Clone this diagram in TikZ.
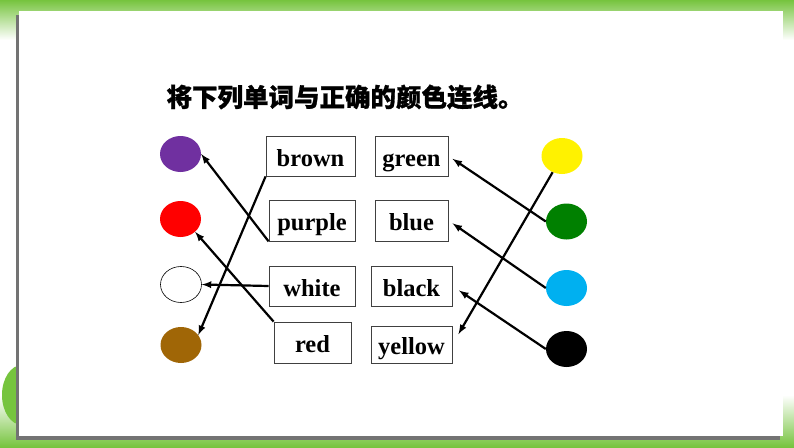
\documentclass[tikz,border=0pt]{standalone}
\usepackage{fontspec}
\setmainfont{Liberation Serif}
\newfontfamily\cjk[BoldFeatures={FakeBold=1}]{Noto Sans CJK SC}
\usepackage{tikz}
\usetikzlibrary{arrows,shapes.geometric}
\definecolor{leaf}{RGB}{118,196,62}
\definecolor{cpurple}{RGB}{112,48,160}
\definecolor{cbrown}{RGB}{160,102,6}
\definecolor{cgreen}{RGB}{0,128,0}
\definecolor{cblue}{RGB}{0,176,240}

\begin{document}
\begin{tikzpicture}[x=1pt,y=-1pt,
	word/.style={rectangle, draw=black!75, line width=0.8pt, minimum height=40pt, inner sep=0pt, text height=20pt, text depth=0pt, font=\bfseries\fontsize{24.5}{24.5}\selectfont},
	dot/.style={ellipse, minimum width=41pt, minimum height=36pt, inner sep=0pt},
	link/.style={>=latex, ->, line width=2.2pt}]

\useasboundingbox (0,0) rectangle (794,447);
% background and panel
\fill[white] (0,0) rectangle (794,447);
\shade[top color=leaf, bottom color=white] (0,0) rectangle (794,40);
\shade[top color=white, bottom color=leaf] (0,395) rectangle (794,447);
\fill[leaf] (22,395) ellipse (20 and 30);
\fill[black!55] (16,15) rectangle (780,440);
\fill[white] (19,11) rectangle (783,436);

\node[anchor=west, font=\cjk\bfseries\fontsize{25.5}{25.5}\selectfont] (T) at (163,97) {将下列单词与正确的颜色连线。};

\node[dot, fill=cpurple] (C1) at (180.5,154) {};
	\node[dot, fill=red] (C2) at (180.5,219) {};
	\node[dot, draw=black, line width=0.6pt, fill=white] (C3) at (181,284.5) {};
	\node[dot, fill=cbrown] (C4) at (181,345) {};
\node[dot, fill=yellow] (C5) at (562,156) {};
	\node[dot, fill=cgreen] (C6) at (566.5,221.5) {};
	\node[dot, fill=cblue] (C7) at (566.5,288) {};
	\node[dot, fill=black] (C8) at (566.5,349) {};

\node[word, minimum width=89pt] (W1) at (310.5,156) {brown};
	\node[word, minimum width=86pt, minimum height=41pt] (W2) at (312,220.5) {purple};
	\node[word, minimum width=86pt] (W3) at (312,286) {white};
	\node[word, minimum width=77pt, minimum height=41pt] (W4) at (312.5,342.5) {red};
\node[word, minimum width=73pt] (W5) at (411.5,156) {green};
	\node[word, minimum width=73pt, minimum height=41pt] (W6) at (411.5,220.5) {blue};
	\node[word, minimum width=81pt] (W7) at (411.5,286) {black};
	\node[word, minimum width=81pt, minimum height=37pt] (W8) at (411.5,344.5) {yellow};


\draw[link] (W2.south west) -- (C1.east);
\draw[link] (W1.south west) -- (C4.30);
\draw[link] (W3.west) -- (C3.east);
\draw[link] (W4.north west) -- (C2.south east);
\draw[link, shorten >=5pt] (C6.west) -- (W5.east);
\draw[link, shorten >=5pt] (C7.west) -- (W6.east);
\draw[link, shorten >=8pt] (C8.west) -- (W7.east);
\draw[link, shorten >=12pt] (C5.240) -- (W8.east);


\end{tikzpicture}
\end{document}
